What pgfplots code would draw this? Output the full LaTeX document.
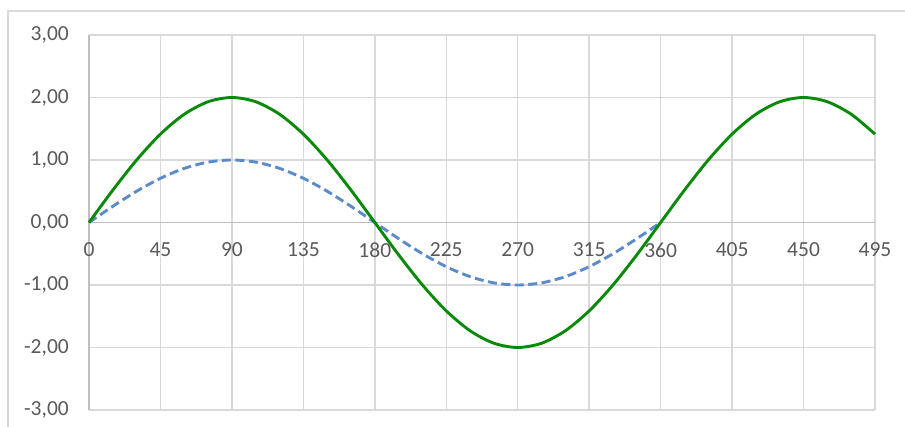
\documentclass[border=0pt]{standalone}
\usepackage{pgfplots}
\pgfplotsset{compat=1.18}
\usepackage{fontspec}
\setmainfont{Carlito}
\definecolor{gridgray}{HTML}{D9D9D9}
\definecolor{axisgray}{HTML}{BFBFBF}
\definecolor{labelgray}{HTML}{595959}
\definecolor{sinblue}{HTML}{5B8BC9}
\definecolor{singreen}{HTML}{088A08}

\begin{document}
\begin{tikzpicture}[x=1pt,y=1pt]
  \useasboundingbox (0,0) rectangle (905,427);
  % chart area border
  \draw[gridgray, line width=1.5pt] (8,0) -- (8,416) -- (905,416);
  \begin{axis}[
    at={(89pt,17pt)}, anchor=south west,
    scale only axis, width=786pt, height=375pt,
    xmin=0, xmax=495, ymin=-3, ymax=3,
    axis x line=middle, axis y line=left,
    axis line style={-, axisgray, line width=1.5pt},
    hide obscured x ticks=false, hide obscured y ticks=false,
    xtick={0,45,...,495},
    xticklabels={0,45,90,135,180,225,270,315,360,405,450,495},
    ytick={-3,-2,...,3},
    yticklabels={{-3,00},{-2,00},{-1,00},{0,00},{1,00},{2,00},{3,00}},
    major tick length=0pt,
    grid=major,
    major grid style={gridgray, line width=1.5pt},
    ticklabel style={font=\fontsize{21.5}{24}\selectfont, text=labelgray, inner sep=0pt},
    xticklabel style={anchor=north, yshift=-20pt},
    yticklabel style={anchor=east, xshift=-20pt},
    clip=false,
  ]
    % sin(x), 0 to 360 degrees
    \addplot[sinblue, line width=2.9pt, dash pattern=on 9pt off 4.5pt, smooth] coordinates {
      (0,0) (15,0.2588) (30,0.5) (45,0.7071) (60,0.8660) (75,0.9659)
      (90,1) (105,0.9659) (120,0.8660) (135,0.7071) (150,0.5) (165,0.2588)
      (180,0) (195,-0.2588) (210,-0.5) (225,-0.7071) (240,-0.8660) (255,-0.9659)
      (270,-1) (285,-0.9659) (300,-0.8660) (315,-0.7071) (330,-0.5) (345,-0.2588)
      (360,0)
    };
    % 2 sin(x), 0 to 495 degrees
    \addplot[singreen, line width=2.9pt, smooth] coordinates {
      (0,0) (15,0.5176) (30,1) (45,1.4142) (60,1.7321) (75,1.9319)
      (90,2) (105,1.9319) (120,1.7321) (135,1.4142) (150,1) (165,0.5176)
      (180,0) (195,-0.5176) (210,-1) (225,-1.4142) (240,-1.7321) (255,-1.9319)
      (270,-2) (285,-1.9319) (300,-1.7321) (315,-1.4142) (330,-1) (345,-0.5176)
      (360,0) (375,0.5176) (390,1) (405,1.4142) (420,1.7321) (435,1.9319)
      (450,2) (465,1.9319) (480,1.7321) (495,1.4142)
    };
  \end{axis}
\end{tikzpicture}
\end{document}
